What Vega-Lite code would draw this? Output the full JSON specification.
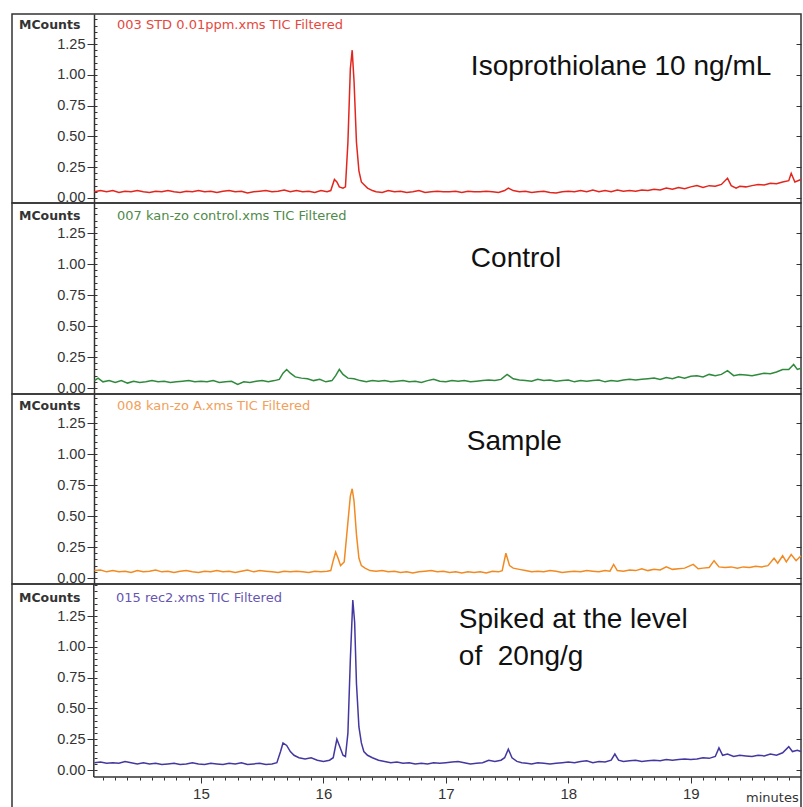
{
"$schema":"https://vega.github.io/schema/vega-lite/v6.json",
"padding":{"left":11,"top":13,"right":3,"bottom":0},
"background":"white",
"spacing":0,
"bounds":"flush",
"config":{"view":{"stroke":"#333","strokeWidth":1.5},"axis":{"grid":false,"labelFont":"Liberation Sans","labelColor":"#333","tickColor":"#333","domainColor":"#333"},"text":{"font":"Liberation Sans"}},
"datasets":{
"std":[{"t":14.13,"v":0.05},{"t":14.18,"v":0.06},{"t":14.23,"v":0.05},{"t":14.28,"v":0.06},{"t":14.33,"v":0.045},{"t":14.38,"v":0.055},{"t":14.43,"v":0.05},{"t":14.48,"v":0.06},{"t":14.53,"v":0.05},{"t":14.58,"v":0.045},{"t":14.63,"v":0.055},{"t":14.68,"v":0.05},{"t":14.73,"v":0.06},{"t":14.78,"v":0.05},{"t":14.83,"v":0.045},{"t":14.88,"v":0.055},{"t":14.93,"v":0.05},{"t":14.98,"v":0.06},{"t":15.03,"v":0.05},{"t":15.08,"v":0.055},{"t":15.13,"v":0.045},{"t":15.18,"v":0.055},{"t":15.23,"v":0.06},{"t":15.28,"v":0.05},{"t":15.33,"v":0.055},{"t":15.38,"v":0.04},{"t":15.43,"v":0.05},{"t":15.48,"v":0.055},{"t":15.53,"v":0.06},{"t":15.58,"v":0.05},{"t":15.63,"v":0.055},{"t":15.68,"v":0.065},{"t":15.73,"v":0.05},{"t":15.78,"v":0.06},{"t":15.83,"v":0.05},{"t":15.88,"v":0.055},{"t":15.93,"v":0.045},{"t":15.98,"v":0.06},{"t":16.03,"v":0.05},{"t":16.06,"v":0.06},{"t":16.09,"v":0.15},{"t":16.11,"v":0.13},{"t":16.13,"v":0.09},{"t":16.16,"v":0.08},{"t":16.18,"v":0.09},{"t":16.2,"v":0.45},{"t":16.22,"v":1.05},{"t":16.235,"v":1.2},{"t":16.25,"v":0.95},{"t":16.27,"v":0.45},{"t":16.29,"v":0.22},{"t":16.31,"v":0.13},{"t":16.33,"v":0.11},{"t":16.36,"v":0.08},{"t":16.4,"v":0.06},{"t":16.43,"v":0.05},{"t":16.48,"v":0.045},{"t":16.53,"v":0.06},{"t":16.58,"v":0.05},{"t":16.63,"v":0.055},{"t":16.68,"v":0.045},{"t":16.73,"v":0.05},{"t":16.78,"v":0.06},{"t":16.83,"v":0.045},{"t":16.88,"v":0.05},{"t":16.93,"v":0.055},{"t":16.98,"v":0.05},{"t":17.03,"v":0.05},{"t":17.08,"v":0.055},{"t":17.13,"v":0.045},{"t":17.18,"v":0.055},{"t":17.23,"v":0.05},{"t":17.28,"v":0.05},{"t":17.33,"v":0.055},{"t":17.38,"v":0.05},{"t":17.43,"v":0.045},{"t":17.48,"v":0.06},{"t":17.51,"v":0.08},{"t":17.55,"v":0.06},{"t":17.6,"v":0.05},{"t":17.65,"v":0.055},{"t":17.7,"v":0.045},{"t":17.75,"v":0.05},{"t":17.8,"v":0.055},{"t":17.85,"v":0.045},{"t":17.9,"v":0.04},{"t":17.95,"v":0.05},{"t":18.0,"v":0.055},{"t":18.05,"v":0.05},{"t":18.1,"v":0.06},{"t":18.15,"v":0.05},{"t":18.2,"v":0.065},{"t":18.25,"v":0.05},{"t":18.3,"v":0.06},{"t":18.35,"v":0.05},{"t":18.4,"v":0.065},{"t":18.45,"v":0.055},{"t":18.5,"v":0.06},{"t":18.55,"v":0.055},{"t":18.6,"v":0.065},{"t":18.65,"v":0.06},{"t":18.7,"v":0.07},{"t":18.75,"v":0.065},{"t":18.8,"v":0.08},{"t":18.85,"v":0.07},{"t":18.9,"v":0.085},{"t":18.95,"v":0.075},{"t":19.0,"v":0.09},{"t":19.05,"v":0.1},{"t":19.1,"v":0.085},{"t":19.15,"v":0.1},{"t":19.2,"v":0.095},{"t":19.25,"v":0.11},{"t":19.3,"v":0.16},{"t":19.33,"v":0.1},{"t":19.37,"v":0.08},{"t":19.4,"v":0.095},{"t":19.45,"v":0.09},{"t":19.5,"v":0.1},{"t":19.55,"v":0.11},{"t":19.6,"v":0.105},{"t":19.65,"v":0.12},{"t":19.7,"v":0.115},{"t":19.75,"v":0.13},{"t":19.8,"v":0.14},{"t":19.82,"v":0.2},{"t":19.85,"v":0.13},{"t":19.9,"v":0.15}],
"ctl":[{"t":14.13,"v":0.06},{"t":14.16,"v":0.08},{"t":14.2,"v":0.05},{"t":14.25,"v":0.06},{"t":14.3,"v":0.045},{"t":14.35,"v":0.06},{"t":14.4,"v":0.04},{"t":14.45,"v":0.055},{"t":14.5,"v":0.045},{"t":14.55,"v":0.05},{"t":14.6,"v":0.06},{"t":14.65,"v":0.05},{"t":14.7,"v":0.055},{"t":14.75,"v":0.045},{"t":14.8,"v":0.05},{"t":14.85,"v":0.055},{"t":14.9,"v":0.06},{"t":14.95,"v":0.05},{"t":15.0,"v":0.055},{"t":15.05,"v":0.05},{"t":15.1,"v":0.06},{"t":15.15,"v":0.045},{"t":15.2,"v":0.05},{"t":15.25,"v":0.055},{"t":15.3,"v":0.03},{"t":15.35,"v":0.05},{"t":15.4,"v":0.045},{"t":15.45,"v":0.055},{"t":15.5,"v":0.06},{"t":15.55,"v":0.05},{"t":15.6,"v":0.06},{"t":15.64,"v":0.07},{"t":15.67,"v":0.12},{"t":15.7,"v":0.15},{"t":15.73,"v":0.12},{"t":15.77,"v":0.09},{"t":15.82,"v":0.08},{"t":15.87,"v":0.075},{"t":15.92,"v":0.06},{"t":15.97,"v":0.07},{"t":16.02,"v":0.05},{"t":16.07,"v":0.06},{"t":16.1,"v":0.1},{"t":16.13,"v":0.15},{"t":16.16,"v":0.11},{"t":16.2,"v":0.08},{"t":16.25,"v":0.075},{"t":16.3,"v":0.06},{"t":16.35,"v":0.05},{"t":16.4,"v":0.06},{"t":16.45,"v":0.055},{"t":16.5,"v":0.06},{"t":16.55,"v":0.05},{"t":16.6,"v":0.055},{"t":16.65,"v":0.06},{"t":16.7,"v":0.05},{"t":16.75,"v":0.055},{"t":16.8,"v":0.045},{"t":16.85,"v":0.06},{"t":16.9,"v":0.07},{"t":16.95,"v":0.055},{"t":17.0,"v":0.05},{"t":17.05,"v":0.06},{"t":17.1,"v":0.055},{"t":17.15,"v":0.06},{"t":17.2,"v":0.05},{"t":17.25,"v":0.055},{"t":17.3,"v":0.06},{"t":17.35,"v":0.065},{"t":17.4,"v":0.06},{"t":17.45,"v":0.07},{"t":17.5,"v":0.11},{"t":17.55,"v":0.075},{"t":17.6,"v":0.065},{"t":17.65,"v":0.06},{"t":17.7,"v":0.055},{"t":17.75,"v":0.07},{"t":17.8,"v":0.06},{"t":17.85,"v":0.065},{"t":17.9,"v":0.055},{"t":17.95,"v":0.06},{"t":18.0,"v":0.065},{"t":18.05,"v":0.05},{"t":18.1,"v":0.06},{"t":18.15,"v":0.055},{"t":18.2,"v":0.06},{"t":18.25,"v":0.065},{"t":18.3,"v":0.05},{"t":18.35,"v":0.06},{"t":18.4,"v":0.055},{"t":18.45,"v":0.065},{"t":18.5,"v":0.07},{"t":18.55,"v":0.065},{"t":18.6,"v":0.07},{"t":18.65,"v":0.075},{"t":18.7,"v":0.08},{"t":18.75,"v":0.07},{"t":18.8,"v":0.085},{"t":18.85,"v":0.075},{"t":18.9,"v":0.09},{"t":18.95,"v":0.08},{"t":19.0,"v":0.095},{"t":19.05,"v":0.1},{"t":19.1,"v":0.09},{"t":19.15,"v":0.11},{"t":19.2,"v":0.1},{"t":19.25,"v":0.11},{"t":19.3,"v":0.14},{"t":19.35,"v":0.1},{"t":19.4,"v":0.11},{"t":19.45,"v":0.105},{"t":19.5,"v":0.1},{"t":19.55,"v":0.11},{"t":19.6,"v":0.12},{"t":19.65,"v":0.115},{"t":19.7,"v":0.13},{"t":19.75,"v":0.15},{"t":19.8,"v":0.15},{"t":19.84,"v":0.19},{"t":19.87,"v":0.15},{"t":19.9,"v":0.16}],
"smp":[{"t":14.13,"v":0.06},{"t":14.18,"v":0.065},{"t":14.23,"v":0.05},{"t":14.28,"v":0.06},{"t":14.33,"v":0.05},{"t":14.38,"v":0.055},{"t":14.43,"v":0.045},{"t":14.48,"v":0.06},{"t":14.53,"v":0.05},{"t":14.58,"v":0.055},{"t":14.63,"v":0.065},{"t":14.68,"v":0.05},{"t":14.73,"v":0.055},{"t":14.78,"v":0.045},{"t":14.83,"v":0.055},{"t":14.88,"v":0.06},{"t":14.93,"v":0.05},{"t":14.98,"v":0.045},{"t":15.03,"v":0.055},{"t":15.08,"v":0.05},{"t":15.13,"v":0.06},{"t":15.18,"v":0.05},{"t":15.23,"v":0.055},{"t":15.28,"v":0.045},{"t":15.33,"v":0.055},{"t":15.38,"v":0.065},{"t":15.43,"v":0.05},{"t":15.48,"v":0.06},{"t":15.53,"v":0.055},{"t":15.58,"v":0.05},{"t":15.63,"v":0.045},{"t":15.68,"v":0.055},{"t":15.73,"v":0.05},{"t":15.78,"v":0.055},{"t":15.83,"v":0.05},{"t":15.88,"v":0.045},{"t":15.93,"v":0.055},{"t":15.98,"v":0.05},{"t":16.03,"v":0.055},{"t":16.06,"v":0.06},{"t":16.08,"v":0.14},{"t":16.1,"v":0.21},{"t":16.12,"v":0.16},{"t":16.14,"v":0.1},{"t":16.17,"v":0.13},{"t":16.2,"v":0.45},{"t":16.22,"v":0.66},{"t":16.235,"v":0.72},{"t":16.25,"v":0.62},{"t":16.27,"v":0.35},{"t":16.29,"v":0.16},{"t":16.31,"v":0.1},{"t":16.34,"v":0.08},{"t":16.38,"v":0.06},{"t":16.43,"v":0.055},{"t":16.48,"v":0.06},{"t":16.53,"v":0.05},{"t":16.58,"v":0.055},{"t":16.63,"v":0.045},{"t":16.68,"v":0.05},{"t":16.73,"v":0.04},{"t":16.78,"v":0.05},{"t":16.83,"v":0.055},{"t":16.88,"v":0.06},{"t":16.93,"v":0.05},{"t":16.98,"v":0.055},{"t":17.03,"v":0.045},{"t":17.08,"v":0.05},{"t":17.13,"v":0.04},{"t":17.18,"v":0.05},{"t":17.23,"v":0.045},{"t":17.28,"v":0.05},{"t":17.33,"v":0.04},{"t":17.38,"v":0.055},{"t":17.43,"v":0.05},{"t":17.46,"v":0.06},{"t":17.49,"v":0.2},{"t":17.52,"v":0.1},{"t":17.55,"v":0.08},{"t":17.6,"v":0.07},{"t":17.65,"v":0.06},{"t":17.7,"v":0.05},{"t":17.75,"v":0.055},{"t":17.8,"v":0.05},{"t":17.85,"v":0.06},{"t":17.9,"v":0.055},{"t":17.95,"v":0.045},{"t":18.0,"v":0.05},{"t":18.05,"v":0.055},{"t":18.1,"v":0.05},{"t":18.15,"v":0.06},{"t":18.2,"v":0.055},{"t":18.25,"v":0.05},{"t":18.3,"v":0.06},{"t":18.34,"v":0.055},{"t":18.37,"v":0.11},{"t":18.4,"v":0.06},{"t":18.45,"v":0.055},{"t":18.5,"v":0.065},{"t":18.55,"v":0.06},{"t":18.6,"v":0.075},{"t":18.65,"v":0.06},{"t":18.7,"v":0.07},{"t":18.75,"v":0.065},{"t":18.8,"v":0.09},{"t":18.85,"v":0.07},{"t":18.9,"v":0.075},{"t":18.95,"v":0.08},{"t":19.02,"v":0.11},{"t":19.06,"v":0.075},{"t":19.1,"v":0.08},{"t":19.15,"v":0.085},{"t":19.19,"v":0.14},{"t":19.23,"v":0.09},{"t":19.28,"v":0.085},{"t":19.33,"v":0.09},{"t":19.38,"v":0.08},{"t":19.43,"v":0.09},{"t":19.48,"v":0.085},{"t":19.53,"v":0.095},{"t":19.58,"v":0.09},{"t":19.63,"v":0.1},{"t":19.68,"v":0.16},{"t":19.71,"v":0.12},{"t":19.75,"v":0.18},{"t":19.78,"v":0.13},{"t":19.82,"v":0.19},{"t":19.86,"v":0.14},{"t":19.9,"v":0.18}],
"spk":[{"t":14.13,"v":0.06},{"t":14.18,"v":0.065},{"t":14.23,"v":0.055},{"t":14.28,"v":0.06},{"t":14.33,"v":0.055},{"t":14.38,"v":0.07},{"t":14.43,"v":0.06},{"t":14.48,"v":0.05},{"t":14.53,"v":0.06},{"t":14.58,"v":0.05},{"t":14.63,"v":0.055},{"t":14.68,"v":0.045},{"t":14.73,"v":0.05},{"t":14.78,"v":0.055},{"t":14.83,"v":0.045},{"t":14.88,"v":0.05},{"t":14.93,"v":0.06},{"t":14.98,"v":0.05},{"t":15.03,"v":0.045},{"t":15.08,"v":0.055},{"t":15.13,"v":0.05},{"t":15.18,"v":0.045},{"t":15.23,"v":0.055},{"t":15.28,"v":0.05},{"t":15.33,"v":0.06},{"t":15.38,"v":0.045},{"t":15.43,"v":0.05},{"t":15.48,"v":0.055},{"t":15.53,"v":0.045},{"t":15.58,"v":0.05},{"t":15.62,"v":0.06},{"t":15.65,"v":0.15},{"t":15.67,"v":0.22},{"t":15.7,"v":0.2},{"t":15.73,"v":0.15},{"t":15.76,"v":0.12},{"t":15.8,"v":0.1},{"t":15.85,"v":0.09},{"t":15.9,"v":0.1},{"t":15.95,"v":0.08},{"t":16.0,"v":0.07},{"t":16.05,"v":0.08},{"t":16.08,"v":0.1},{"t":16.11,"v":0.25},{"t":16.13,"v":0.2},{"t":16.16,"v":0.12},{"t":16.18,"v":0.11},{"t":16.2,"v":0.3},{"t":16.22,"v":0.9},{"t":16.24,"v":1.38},{"t":16.255,"v":1.2},{"t":16.27,"v":0.7},{"t":16.29,"v":0.35},{"t":16.31,"v":0.22},{"t":16.33,"v":0.15},{"t":16.36,"v":0.12},{"t":16.4,"v":0.1},{"t":16.45,"v":0.08},{"t":16.5,"v":0.07},{"t":16.55,"v":0.06},{"t":16.6,"v":0.065},{"t":16.65,"v":0.055},{"t":16.7,"v":0.06},{"t":16.75,"v":0.05},{"t":16.8,"v":0.055},{"t":16.85,"v":0.05},{"t":16.9,"v":0.06},{"t":16.95,"v":0.055},{"t":17.0,"v":0.06},{"t":17.05,"v":0.065},{"t":17.1,"v":0.07},{"t":17.15,"v":0.06},{"t":17.2,"v":0.05},{"t":17.25,"v":0.055},{"t":17.3,"v":0.06},{"t":17.35,"v":0.08},{"t":17.4,"v":0.07},{"t":17.45,"v":0.08},{"t":17.48,"v":0.1},{"t":17.51,"v":0.17},{"t":17.54,"v":0.1},{"t":17.58,"v":0.07},{"t":17.62,"v":0.06},{"t":17.66,"v":0.055},{"t":17.7,"v":0.05},{"t":17.75,"v":0.06},{"t":17.8,"v":0.055},{"t":17.85,"v":0.05},{"t":17.9,"v":0.055},{"t":17.95,"v":0.06},{"t":18.0,"v":0.065},{"t":18.05,"v":0.06},{"t":18.1,"v":0.07},{"t":18.15,"v":0.075},{"t":18.2,"v":0.06},{"t":18.25,"v":0.07},{"t":18.3,"v":0.065},{"t":18.35,"v":0.08},{"t":18.38,"v":0.13},{"t":18.41,"v":0.08},{"t":18.45,"v":0.07},{"t":18.5,"v":0.075},{"t":18.55,"v":0.08},{"t":18.6,"v":0.07},{"t":18.65,"v":0.075},{"t":18.7,"v":0.08},{"t":18.75,"v":0.075},{"t":18.8,"v":0.085},{"t":18.85,"v":0.08},{"t":18.9,"v":0.085},{"t":18.95,"v":0.09},{"t":19.0,"v":0.085},{"t":19.05,"v":0.09},{"t":19.1,"v":0.1},{"t":19.15,"v":0.095},{"t":19.2,"v":0.11},{"t":19.23,"v":0.18},{"t":19.26,"v":0.12},{"t":19.3,"v":0.13},{"t":19.35,"v":0.11},{"t":19.4,"v":0.12},{"t":19.45,"v":0.115},{"t":19.5,"v":0.11},{"t":19.55,"v":0.12},{"t":19.6,"v":0.115},{"t":19.65,"v":0.13},{"t":19.7,"v":0.12},{"t":19.75,"v":0.14},{"t":19.8,"v":0.19},{"t":19.83,"v":0.15},{"t":19.87,"v":0.16},{"t":19.9,"v":0.15}]
},
"vconcat":[
{"width":789,"height":189,"resolve":{"axis":{"y":"independent"}},
"layer":[
{"data":{"name":"std"},"mark":{"type":"line","color":"#e3261d","strokeWidth":1.5},
"encoding":{"x":{"field":"t","type":"quantitative","scale":{"domain":[13.457,19.9],"nice":false,"zero":false},"axis":null},
"y":{"field":"v","type":"quantitative","scale":{"domain":[-0.041,1.494],"nice":false,"zero":false},"axis":{"orient":"left","offset":-82,"values":[0,0.25,0.5,0.75,1,1.25],"format":".2f","tickSize":7,"labelPadding":2,"labelFontSize":14.5,"domainWidth":1.5,"title":null}}}},
{"data":{"values":[{}]},"mark":{"type":"point","opacity":0},"encoding":{"x":{"datum":15,"type":"quantitative","axis":null},"y":{"datum":0,"type":"quantitative","axis":{"orient":"left","offset":-82,"values":[0,0.05,0.1,0.15,0.2,0.25,0.3,0.35,0.4,0.45,0.5,0.55,0.6,0.65,0.7,0.75,0.8,0.85,0.9,0.95,1,1.05,1.1,1.15,1.2,1.25,1.3,1.35,1.4,1.45],"tickSize":-3,"labels":false,"domain":false,"title":null}}}},
{"data":{"values":[{}]},"mark":{"type":"point","opacity":0},"encoding":{"x":{"datum":15,"type":"quantitative","axis":null},"y":{"datum":0,"type":"quantitative","axis":{"orient":"right","values":[0,0.25,0.5,0.75,1,1.25],"tickSize":-5,"labels":false,"domain":false,"title":null}}}},
{"data":{"values":[{}]},"mark":{"type":"text","align":"left","baseline":"middle","font":"DejaVu Sans","fontSize":12.5,"fontWeight":"bold","color":"#333","text":"MCounts"},"encoding":{"x":{"datum":13.514,"type":"quantitative","axis":null},"y":{"datum":1.404,"type":"quantitative","axis":null}}},
{"data":{"values":[{}]},"mark":{"type":"text","align":"left","baseline":"middle","font":"DejaVu Sans","fontSize":13,"color":"#e5483e","text":"003 STD 0.01ppm.xms TIC Filtered"},"encoding":{"x":{"datum":14.314,"type":"quantitative","axis":null},"y":{"datum":1.404,"type":"quantitative","axis":null}}},
{"data":{"values":[{}]},"mark":{"type":"text","align":"left","baseline":"middle","fontSize":28,"color":"#111","text":"Isoprothiolane 10 ng/mL"},"encoding":{"x":{"datum":17.204,"type":"quantitative","axis":null},"y":{"datum":1.063,"type":"quantitative","axis":null}}}
]},
{"width":789,"height":191,"resolve":{"axis":{"y":"independent"}},
"layer":[
{"data":{"name":"ctl"},"mark":{"type":"line","color":"#2f8a3c","strokeWidth":1.5},
"encoding":{"x":{"field":"t","type":"quantitative","scale":{"domain":[13.457,19.9],"nice":false,"zero":false},"axis":null},
"y":{"field":"v","type":"quantitative","scale":{"domain":[-0.048,1.492],"nice":false,"zero":false},"axis":{"orient":"left","offset":-82,"values":[0,0.25,0.5,0.75,1,1.25],"format":".2f","tickSize":7,"labelPadding":2,"labelFontSize":14.5,"domainWidth":1.5,"title":null}}}},
{"data":{"values":[{}]},"mark":{"type":"point","opacity":0},"encoding":{"x":{"datum":15,"type":"quantitative","axis":null},"y":{"datum":0,"type":"quantitative","axis":{"orient":"left","offset":-82,"values":[0,0.05,0.1,0.15,0.2,0.25,0.3,0.35,0.4,0.45,0.5,0.55,0.6,0.65,0.7,0.75,0.8,0.85,0.9,0.95,1,1.05,1.1,1.15,1.2,1.25,1.3,1.35,1.4,1.45],"tickSize":-3,"labels":false,"domain":false,"title":null}}}},
{"data":{"values":[{}]},"mark":{"type":"point","opacity":0},"encoding":{"x":{"datum":15,"type":"quantitative","axis":null},"y":{"datum":0,"type":"quantitative","axis":{"orient":"right","values":[0,0.25,0.5,0.75,1,1.25],"tickSize":-5,"labels":false,"domain":false,"title":null}}}},
{"data":{"values":[{}]},"mark":{"type":"text","align":"left","baseline":"middle","font":"DejaVu Sans","fontSize":12.5,"fontWeight":"bold","color":"#333","text":"MCounts"},"encoding":{"x":{"datum":13.514,"type":"quantitative","axis":null},"y":{"datum":1.39,"type":"quantitative","axis":null}}},
{"data":{"values":[{}]},"mark":{"type":"text","align":"left","baseline":"middle","font":"DejaVu Sans","fontSize":13,"color":"#4f8a4a","text":"007 kan-zo control.xms TIC Filtered"},"encoding":{"x":{"datum":14.314,"type":"quantitative","axis":null},"y":{"datum":1.39,"type":"quantitative","axis":null}}},
{"data":{"values":[{}]},"mark":{"type":"text","align":"left","baseline":"middle","fontSize":28,"color":"#111","text":"Control"},"encoding":{"x":{"datum":17.204,"type":"quantitative","axis":null},"y":{"datum":1.04,"type":"quantitative","axis":null}}}
]},
{"width":789,"height":190,"resolve":{"axis":{"y":"independent"}},
"layer":[
{"data":{"name":"smp"},"mark":{"type":"line","color":"#f28a22","strokeWidth":1.5},
"encoding":{"x":{"field":"t","type":"quantitative","scale":{"domain":[13.457,19.9],"nice":false,"zero":false},"axis":null},
"y":{"field":"v","type":"quantitative","scale":{"domain":[-0.048,1.484],"nice":false,"zero":false},"axis":{"orient":"left","offset":-82,"values":[0,0.25,0.5,0.75,1,1.25],"format":".2f","tickSize":7,"labelPadding":2,"labelFontSize":14.5,"domainWidth":1.5,"title":null}}}},
{"data":{"values":[{}]},"mark":{"type":"point","opacity":0},"encoding":{"x":{"datum":15,"type":"quantitative","axis":null},"y":{"datum":0,"type":"quantitative","axis":{"orient":"left","offset":-82,"values":[0,0.05,0.1,0.15,0.2,0.25,0.3,0.35,0.4,0.45,0.5,0.55,0.6,0.65,0.7,0.75,0.8,0.85,0.9,0.95,1,1.05,1.1,1.15,1.2,1.25,1.3,1.35,1.4,1.45],"tickSize":-3,"labels":false,"domain":false,"title":null}}}},
{"data":{"values":[{}]},"mark":{"type":"point","opacity":0},"encoding":{"x":{"datum":15,"type":"quantitative","axis":null},"y":{"datum":0,"type":"quantitative","axis":{"orient":"right","values":[0,0.25,0.5,0.75,1,1.25],"tickSize":-5,"labels":false,"domain":false,"title":null}}}},
{"data":{"values":[{}]},"mark":{"type":"text","align":"left","baseline":"middle","font":"DejaVu Sans","fontSize":12.5,"fontWeight":"bold","color":"#333","text":"MCounts"},"encoding":{"x":{"datum":13.514,"type":"quantitative","axis":null},"y":{"datum":1.39,"type":"quantitative","axis":null}}},
{"data":{"values":[{}]},"mark":{"type":"text","align":"left","baseline":"middle","font":"DejaVu Sans","fontSize":13,"color":"#f2a05a","text":"008 kan-zo A.xms TIC Filtered"},"encoding":{"x":{"datum":14.314,"type":"quantitative","axis":null},"y":{"datum":1.39,"type":"quantitative","axis":null}}},
{"data":{"values":[{}]},"mark":{"type":"text","align":"left","baseline":"middle","fontSize":28,"color":"#111","text":"Sample"},"encoding":{"x":{"datum":17.171,"type":"quantitative","axis":null},"y":{"datum":1.097,"type":"quantitative","axis":null}}}
]},
{"width":789,"height":224,"resolve":{"axis":{"y":"independent","x":"independent"}},
"layer":[
{"data":{"name":"spk"},"mark":{"type":"line","color":"#4338a0","strokeWidth":1.5},
"encoding":{"x":{"field":"t","type":"quantitative","scale":{"domain":[13.457,19.9],"nice":false,"zero":false},"axis":{"orient":"bottom","offset":-31,"values":[15,16,17,18,19],"format":"d","tickSize":6,"domain":false,"labelPadding":3,"labelFontSize":15,"title":null}},
"y":{"field":"v","type":"quantitative","scale":{"domain":[-0.308,1.51],"nice":false,"zero":false},"axis":{"orient":"left","offset":-82,"values":[0,0.25,0.5,0.75,1,1.25],"format":".2f","tickSize":7,"labelPadding":2,"labelFontSize":14.5,"domain":false,"title":null}}}},
{"data":{"values":[{}]},"mark":{"type":"point","opacity":0},"encoding":{"x":{"datum":15,"type":"quantitative","axis":{"orient":"bottom","offset":-31,"values":[14.2,14.3,14.4,14.5,14.6,14.7,14.8,14.9,15.1,15.2,15.3,15.4,15.5,15.6,15.7,15.8,15.9,16.1,16.2,16.3,16.4,16.5,16.6,16.7,16.8,16.9,17.1,17.2,17.3,17.4,17.5,17.6,17.7,17.8,17.9,18.1,18.2,18.3,18.4,18.5,18.6,18.7,18.8,18.9,19.1,19.2,19.3,19.4,19.5,19.6,19.7,19.8],"tickSize":3,"labels":false,"domain":false,"title":null}},"y":{"datum":0,"type":"quantitative","axis":{"orient":"left","offset":-82,"values":[0,0.05,0.1,0.15,0.2,0.25,0.3,0.35,0.4,0.45,0.5,0.55,0.6,0.65,0.7,0.75,0.8,0.85,0.9,0.95,1,1.05,1.1,1.15,1.2,1.25,1.3,1.35,1.4,1.45,1.5],"tickSize":-3,"labels":false,"domain":false,"title":null}}}},
{"data":{"values":[{}]},"mark":{"type":"point","opacity":0},"encoding":{"x":{"datum":15,"type":"quantitative","axis":null},"y":{"datum":0,"type":"quantitative","axis":{"orient":"right","values":[0,0.25,0.5,0.75,1,1.25],"tickSize":-5,"labels":false,"domain":false,"title":null}}}},
{"data":{"values":[{}]},"mark":{"type":"rule","color":"#333","strokeWidth":1.5},"encoding":{"x":{"datum":14.125,"type":"quantitative","axis":null},"y":{"datum":-0.057,"type":"quantitative","axis":null},"y2":{"datum":1.51}}},
{"data":{"values":[{}]},"mark":{"type":"rule","color":"#333","strokeWidth":1.5},"encoding":{"x":{"datum":14.125,"type":"quantitative","axis":null},"x2":{"datum":19.9},"y":{"datum":-0.057,"type":"quantitative","axis":null}}},
{"data":{"values":[{}]},"mark":{"type":"text","align":"left","baseline":"middle","font":"DejaVu Sans","fontSize":12.5,"fontWeight":"bold","color":"#333","text":"MCounts"},"encoding":{"x":{"datum":13.514,"type":"quantitative","axis":null},"y":{"datum":1.396,"type":"quantitative","axis":null}}},
{"data":{"values":[{}]},"mark":{"type":"text","align":"left","baseline":"middle","font":"DejaVu Sans","fontSize":13,"color":"#6656b0","text":"015 rec2.xms TIC Filtered"},"encoding":{"x":{"datum":14.306,"type":"quantitative","axis":null},"y":{"datum":1.396,"type":"quantitative","axis":null}}},
{"data":{"values":[{}]},"mark":{"type":"text","align":"left","baseline":"middle","fontSize":28,"color":"#111","text":"Spiked at the level"},"encoding":{"x":{"datum":17.106,"type":"quantitative","axis":null},"y":{"datum":1.218,"type":"quantitative","axis":null}}},
{"data":{"values":[{}]},"mark":{"type":"text","align":"left","baseline":"middle","fontSize":28,"color":"#111","text":"of\u00a0 20ng/g"},"encoding":{"x":{"datum":17.106,"type":"quantitative","axis":null},"y":{"datum":0.917,"type":"quantitative","axis":null}}},
{"data":{"values":[{}]},"mark":{"type":"text","align":"right","baseline":"middle","font":"DejaVu Sans","fontSize":13,"color":"#333","text":"minutes"},"encoding":{"x":{"datum":19.881,"type":"quantitative","axis":null},"y":{"datum":-0.225,"type":"quantitative","axis":null}}}
]}
]
}
